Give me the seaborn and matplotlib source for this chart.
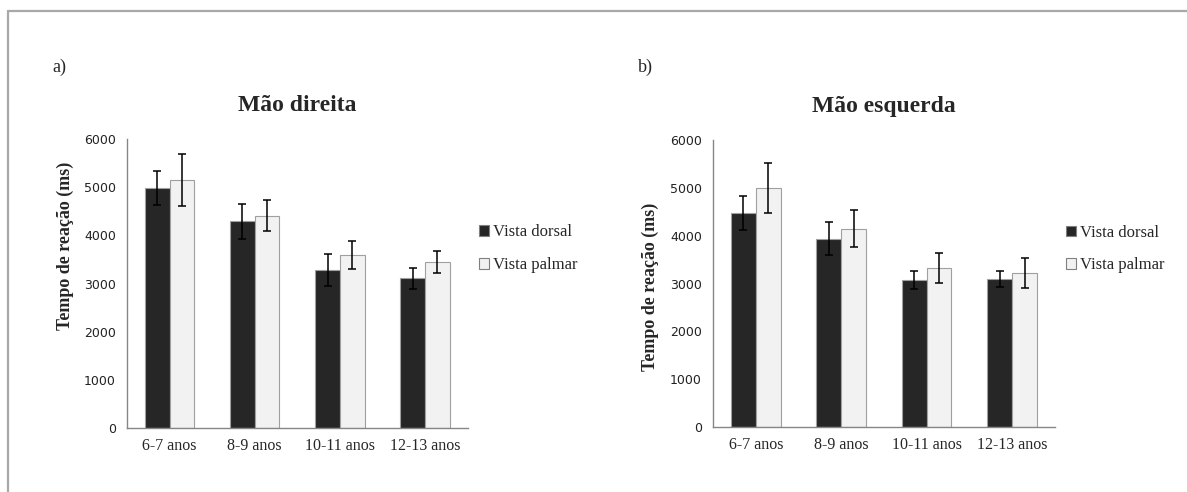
import numpy as np
import pandas as pd
import matplotlib.pyplot as plt
import seaborn as sns

# age groups and conditions
groups = ["6-7 anos", "8-9 anos", "10-11 anos", "12-13 anos"]
views = ["Vista dorsal", "Vista palmar"]

# a) right hand - mean reaction time (ms) and error
right_dorsal = [4990, 4290, 3280, 3110]
right_dorsal_err = [350, 360, 325, 215]
right_palmar = [5150, 4410, 3590, 3440]
right_palmar_err = [535, 320, 285, 230]

# b) left hand
left_dorsal = [4480, 3940, 3070, 3100]
left_dorsal_err = [350, 340, 190, 165]
left_palmar = [5000, 4150, 3330, 3220]
left_palmar_err = [530, 395, 315, 315]

yticks = [0, 1000, 2000, 3000, 4000, 5000, 6000]

SERIF = ["Liberation Serif", "DejaVu Serif"]
SANS = ["DejaVu Sans"]
bar_colors = {"Vista dorsal": "#262626", "Vista palmar": "#f2f2f2"}


def make_frame(dorsal, dorsal_err, palmar, palmar_err):
    rows = []
    for g, v, e in zip(groups, dorsal, dorsal_err):
        rows.append({"Grupo": g, "Vista": views[0], "Tempo": v, "Erro": e})
    for g, v, e in zip(groups, palmar, palmar_err):
        rows.append({"Grupo": g, "Vista": views[1], "Tempo": v, "Erro": e})
    return pd.DataFrame(rows)


def draw_panel(ax, df, title, ylabel_y):
    sns.barplot(
        data=df, x="Grupo", y="Tempo", hue="Vista", order=groups,
        hue_order=views, palette=bar_colors, errorbar=None, width=0.58,
        edgecolor="#a0a0a0", linewidth=0.8, saturation=1, ax=ax,
    )
    # error bars at the bar centres seaborn placed
    for container, view in zip(ax.containers, views):
        sub = df[df["Vista"] == view].set_index("Grupo").loc[groups]
        xs = [p.get_x() + p.get_width() / 2 for p in container.patches]
        ax.errorbar(xs, sub["Tempo"], yerr=sub["Erro"], fmt="none",
                    ecolor="black", elinewidth=1.1, capsize=3, capthick=1.1)
    ax.set_ylim(0, 6000)
    ax.set_xlim(-0.5, len(groups) - 0.5)
    ax.set_yticks(yticks)
    ax.set_yticklabels([str(t) for t in yticks], fontfamily=SANS, fontsize=9,
                       color="#222222")
    ax.set_xticks(range(len(groups)))
    ax.set_xticklabels(groups, fontfamily=SERIF, fontsize=11.5)
    ax.set_xticks(np.arange(-0.5, len(groups), 1.0), minor=True)
    ax.tick_params(axis="x", which="major", length=0, pad=7)
    ax.tick_params(axis="x", which="minor", length=4, color="#868686")
    ax.tick_params(axis="y", length=4, color="#868686", pad=4)
    ax.set_xlabel("")
    ax.set_ylabel("Tempo de reação (ms)", fontfamily=SERIF, fontsize=13,
                  fontweight="bold")
    ax.yaxis.set_label_coords(-0.157, ylabel_y)
    ax.set_title(title, fontfamily=SERIF, fontsize=17, fontweight="bold", pad=20)
    for side in ["top", "right"]:
        ax.spines[side].set_visible(False)
    for side in ["left", "bottom"]:
        ax.spines[side].set_color("#868686")
        ax.spines[side].set_linewidth(1)
    leg = ax.legend(loc="center left", bbox_to_anchor=(0.99, 0.62), frameon=False,
                    prop={"family": SERIF, "size": 12}, handlelength=0.6,
                    handleheight=0.6, handletextpad=0.2, labelspacing=1.0)
    for h in leg.legend_handles:
        h.set_edgecolor("#808080")
        h.set_linewidth(0.8)


sns.set_style("white")
plt.rcParams["font.family"] = ["Liberation Serif", "DejaVu Sans"]

fig = plt.figure(figsize=(11.87, 4.92), dpi=100)
ax1 = fig.add_axes([0.107, 0.130, 0.287, 0.5875])
ax2 = fig.add_axes([0.6007, 0.132, 0.288, 0.5833])

draw_panel(ax1, make_frame(right_dorsal, right_dorsal_err, right_palmar, right_palmar_err),
           "Mão direita", 0.63)
draw_panel(ax2, make_frame(left_dorsal, left_dorsal_err, left_palmar, left_palmar_err),
           "Mão esquerda", 0.49)

fig.text(52 / 1187, 1 - 67 / 492, "a)", family=SERIF, fontsize=13, va="center")
fig.text(638 / 1187, 1 - 67 / 492, "b)", family=SERIF, fontsize=13, va="center")

# outer frame lines (top and left) like the source screenshot
fig.add_artist(plt.Line2D([8 / 1187, 1], [1 - 11 / 492, 1 - 11 / 492],
                          color="#a8a8a8", linewidth=1.6))
fig.add_artist(plt.Line2D([8 / 1187, 8 / 1187], [0, 1 - 11 / 492],
                          color="#a8a8a8", linewidth=1.6))

fig.savefig("out.png", dpi=100)
